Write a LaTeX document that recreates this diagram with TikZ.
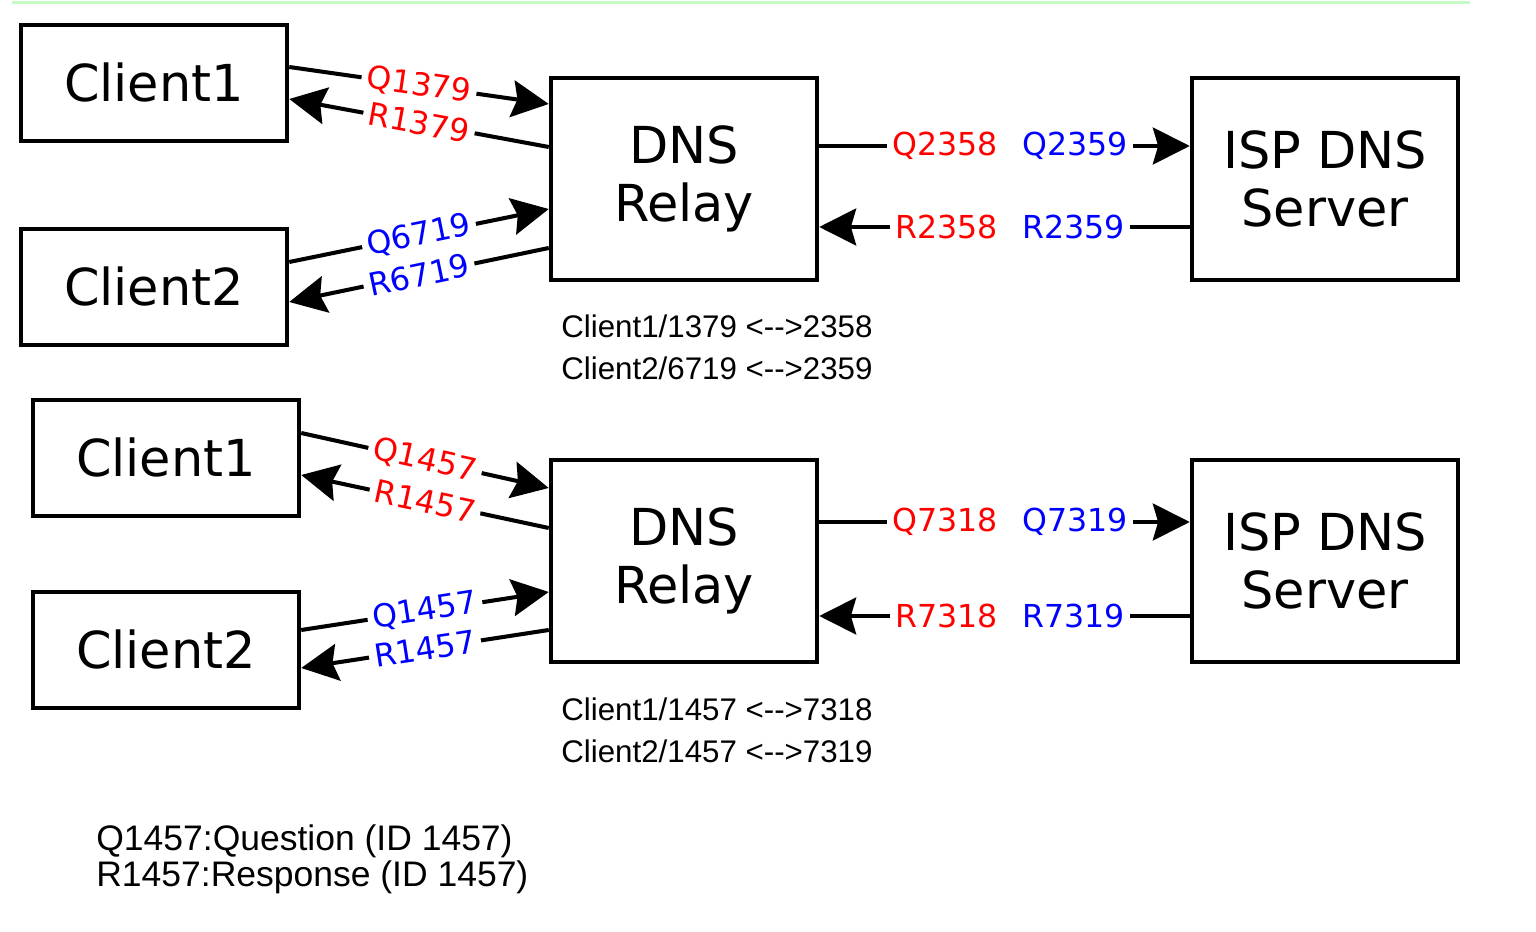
\documentclass[tikz,border=0pt]{standalone}
\usepackage{fontspec}
\setmainfont{DejaVu Sans}
\newfontfamily\mapfont{Liberation Sans}
\usetikzlibrary{calc}
\usetikzlibrary{arrows.meta}
\definecolor{qred}{RGB}{255,0,0}
\definecolor{rblue}{RGB}{0,0,255}
\definecolor{topgreen}{RGB}{196,250,196}

\begin{document}
\begin{tikzpicture}[x=0.02cm,y=-0.02cm,
  box/.style={draw,line width=2.3pt,minimum width=5.33cm,align=center,font=\fontsize{29}{33}\selectfont},
  client/.style={box,minimum height=2.31cm},
  relay/.style={box,minimum height=4.04cm},
  msg/.style={line width=2.3pt,-{Stealth[length=21pt,width=21pt,inset=3pt]}},
  lbl/.style={font=\fontsize{18}{20}\selectfont,fill=white,inner xsep=3pt,inner ysep=0pt,sloped},
  map/.style={font=\mapfont\fontsize{17.8}{20}\selectfont,anchor=base west,inner sep=0pt}]
\useasboundingbox (0,0) rectangle (1536,932);
\draw[topgreen,line width=2pt] (12,2.5) -- (1470,2.5);

\node[client] (c11) at (154,83) {Client1};
\node[client] (c12) at (154,287) {Client2};
\node[relay] (r1) at (684,179) {DNS\\Relay};
\node[relay] (s1) at (1325,179) {ISP DNS\\Server};

\node[client] (c21) at (166,458) {Client1};
\node[client] (c22) at (166,650) {Client2};
\node[relay] (r2) at (684,561) {DNS\\Relay};
\node[relay] (s2) at (1325,561) {ISP DNS\\Server};

\draw[msg] ($(c11.east)+(0,-16)$) -- node[lbl,text=qred] {Q1379} ($(r1.west)+(0,-75)$);
\draw[msg] ($(r1.west)+(0,-32)$) -- node[lbl,text=qred] {R1379} ($(c11.east)+(0,16)$);
\draw[msg] ($(c12.east)+(0,-25)$) -- node[lbl,text=rblue] {Q6719} ($(r1.west)+(0,30)$);
\draw[msg] ($(r1.west)+(0,69)$) -- node[lbl,text=rblue] {R6719} ($(c12.east)+(0,15)$);
\draw[msg] ($(r1.east)+(0,-33)$) -- node[lbl,pos=0.515] {\color{qred}Q2358\hspace{14pt}\color{rblue}Q2359} ($(s1.west)+(0,-33)$);
\draw[msg] ($(s1.west)+(0,48)$) -- node[lbl,pos=0.485] {\color{qred}R2358\hspace{14pt}\color{rblue}R2359} ($(r1.east)+(0,48)$);

\draw[msg] ($(c21.east)+(0,-25)$) -- node[lbl,text=qred] {Q1457} ($(r2.west)+(0,-73)$);
\draw[msg] ($(r2.west)+(0,-33)$) -- node[lbl,text=qred] {R1457} ($(c21.east)+(0,17)$);
\draw[msg] ($(c22.east)+(0,-20)$) -- node[lbl,text=rblue] {Q1457} ($(r2.west)+(0,31)$);
\draw[msg] ($(r2.west)+(0,69)$) -- node[lbl,text=rblue] {R1457} ($(c22.east)+(0,18)$);
\draw[msg] ($(r2.east)+(0,-39)$) -- node[lbl,pos=0.515] {\color{qred}Q7318\hspace{14pt}\color{rblue}Q7319} ($(s2.west)+(0,-39)$);
\draw[msg] ($(s2.west)+(0,55)$) -- node[lbl,pos=0.485] {\color{qred}R7318\hspace{14pt}\color{rblue}R7319} ($(r2.east)+(0,55)$);

\node[map] (m11) at (561,338) {Client1/1379 <{-}{-}>2358};
\node[map] (m12) at (561,380) {Client2/6719 <{-}{-}>2359};
\node[map] (m21) at (561,720) {Client1/1457 <{-}{-}>7318};
\node[map] (m22) at (561,762) {Client2/1457 <{-}{-}>7319};

\node[map,font=\mapfont\fontsize{20.2}{22}\selectfont] (key1) at (96,850) {Q1457:Question (ID 1457)};
\node[map,font=\mapfont\fontsize{20.2}{22}\selectfont] (key2) at (96,886) {R1457:Response (ID 1457)};
\end{tikzpicture}
\end{document}
